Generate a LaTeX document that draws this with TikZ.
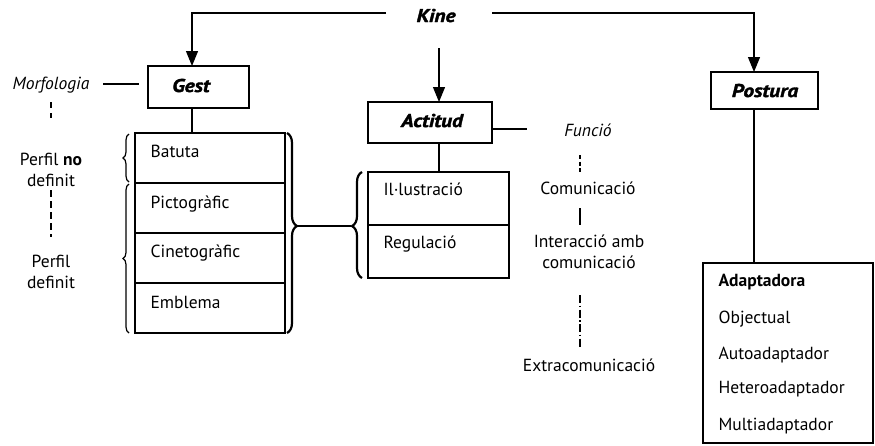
\documentclass[tikz,border=0pt]{standalone}
\usepackage{fontspec}
\setmainfont{PT Sans}
\newfontfamily\ttlfont[FakeStretch=1.15,FakeBold=2]{PT Sans}
\usetikzlibrary{arrows.meta,decorations.pathreplacing,calc}
\begin{document}
\begin{tikzpicture}[x=1pt,y=-1pt,line width=1.2pt,
  txt/.style={inner sep=0pt,font=\fontsize{17.5}{20}\selectfont},
  ctxt/.style={txt,anchor=base},
  ltxt/.style={txt,anchor=base west},
  itxt/.style={ctxt,font=\fontsize{17.5}{20}\selectfont\itshape},
  ttl/.style={inner sep=0pt,anchor=base,font=\ttlfont\fontsize{18.5}{20}\selectfont\bfseries\itshape},
  box/.style={draw,line width=1.2pt,inner sep=0pt},
  arr/.style={-{Triangle[width=12pt,length=15pt]}},
  brc/.style={decorate,decoration={brace,amplitude=#1}},
]
\useasboundingbox (0,0) rectangle (875,445);

% titles
\node[ttl] (kine) at (436,22) {Kine};
\coordinate (kl) at (386,13);
\coordinate (kr) at (492,13);
\coordinate (kd) at (439,48);

% top boxes
\node[box,minimum width=101pt,minimum height=42pt] (gest) at (198.5,87) {};
\node[ttl] (gestt) at (191,92) {Gest};
\node[box,minimum width=124pt,minimum height=41pt] (actitud) at (430,122.5) {};
\node[ttl] (actt) at (432,127) {Actitud};
\node[box,minimum width=107pt,minimum height=37pt] (postura) at (764.5,90.5) {};
\node[ttl] (post) at (765,97) {Postura};

% anchor points on boxes
\coordinate (gn) at (192,66);
\coordinate (gs) at (192,108);
\coordinate (an) at (439,102);
\coordinate (as) at (439,143);
\coordinate (pn) at (754,72);
\coordinate (ps) at (754,109);

% arrows from Kine
\draw[arr] (kl) -| (gn);
\draw[arr] (kr) -| (pn);
\draw[arr] (kd) -- (an);

% Gest list
\node[box,minimum width=150pt,minimum height=50pt] (g1) at (210,158) {};
\node[box,minimum width=150pt,minimum height=50pt] (g2) at (210,208) {};
\node[box,minimum width=150pt,minimum height=50pt] (g3) at (210,258) {};
\node[box,minimum width=150pt,minimum height=50pt] (g4) at (210,308) {};
\node[ltxt] (t1) at (150,157) {Batuta};
\node[ltxt] (t2) at (150,208) {Pictogràfic};
\node[ltxt] (t3) at (150,257) {Cinetogràfic};
\node[ltxt] (t4) at (150,308) {Emblema};
\coordinate (g1n) at (192,133);
\draw (gs) -- (g1n);

% Morfologia side
\node[itxt] (morf) at (51,89) {Morfologia};
\coordinate (ml1) at (103,84);
\coordinate (ml2) at (139,84);
\draw (ml1) -- (ml2);
\coordinate (md1) at (51,102);
\coordinate (md2) at (51,118);
\draw[dash pattern=on 6pt off 5pt] (md1) -- (md2);
\node[ctxt] (pn1) at (51,165) {Perfil \textbf{no}};
\node[ctxt] (pn2) at (51,186) {definit};
\coordinate (pd1) at (51,190);
\coordinate (pd2) at (51,237);
\draw[dash pattern=on 7pt off 4pt] (pd1) -- (pd2);
\node[ctxt] (pf1) at (51,267) {Perfil};
\node[ctxt] (pf2) at (51,288) {definit};

% braces of Gest list
\draw[brc=6pt,line width=1.2pt] (129,182) -- (129,134);
\draw[brc=6pt,line width=1.2pt] (129,333) -- (129,184);
\draw[decorate,decoration={brace,amplitude=10pt,aspect=0.465},line width=2.2pt] (287,133) -- (287,333);

% Actitud list
\node[box,minimum width=141pt,minimum height=53pt] (a1) at (438.5,198.5) {};
\node[box,minimum width=141pt,minimum height=53pt] (a2) at (438.5,251.5) {};
\node[ltxt] (ta1) at (383,195) {Il·lustració};
\node[ltxt] (ta2) at (383,248) {Regulació};
\coordinate (a1n) at (439,172);
\draw (as) -- (a1n);
\draw[decorate,decoration={brace,amplitude=10pt,aspect=0.49},line width=2.2pt] (362,278) -- (362,172);
\coordinate (gtip) at (297,226);
\coordinate (atip) at (351,226);
\draw (gtip) -- (atip);

% Funció side
\coordinate (fl1) at (492,129);
\coordinate (fl2) at (527,129);
\draw (fl1) -- (fl2);
\node[itxt] (func) at (588,136) {Funció};
\coordinate (fd1) at (580,155);
\coordinate (fd2) at (580,172);
\draw[dash pattern=on 4pt off 2.5pt] (fd1) -- (fd2);
\node[ctxt] (com) at (588,194) {Comunicació};
\coordinate (fs1) at (580,208);
\coordinate (fs2) at (580,225);
\draw (fs1) -- (fs2);
\node[ctxt] (int1) at (589,247) {Interacció amb};
\node[ctxt] (int2) at (589,268) {comunicació};
\coordinate (fx1) at (580,295);
\coordinate (fx2) at (580,347);
\draw[dash pattern=on 8pt off 2.5pt on 1.5pt off 2.5pt] (fx1) -- (fx2);
\node[ctxt] (extra) at (589,371) {Extracomunicació};

% Postura list
\node[box,minimum width=170pt,minimum height=180pt] (plist) at (788,353) {};
\coordinate (pln) at (754,263);
\draw (ps) -- (pln);
\node[ltxt] (p1) at (718,286) {\textbf{Adaptadora}};
\node[ltxt] (p2) at (718,323) {Objectual};
\node[ltxt] (p3) at (718,359) {Autoadaptador};
\node[ltxt] (p4) at (718,393) {Heteroadaptador};
\node[ltxt] (p5) at (718,430) {Multiadaptador};
\end{tikzpicture}
\end{document}
